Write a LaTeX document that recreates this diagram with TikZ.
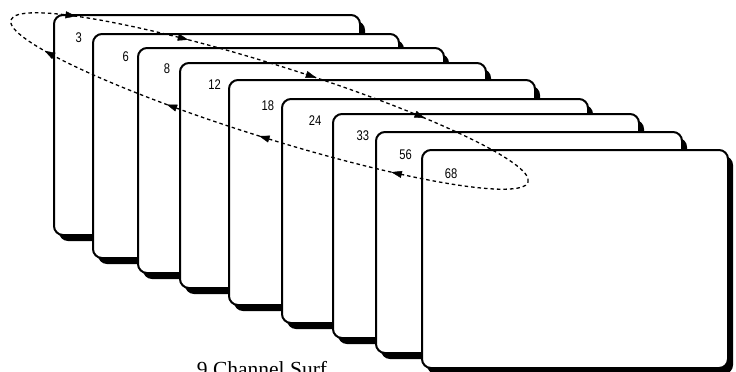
\documentclass[tikz,border=0pt]{standalone}
\usepackage{fontspec}
\setmainfont{Liberation Serif}
\newfontfamily\numfont[FakeStretch=0.8]{Liberation Sans}
\usetikzlibrary{shadows,arrows.meta}
\begin{document}
\begin{tikzpicture}[x=1pt,y=1pt,
  screen/.style={draw=black, line width=2pt, fill=white, rounded corners=9pt,
    inner sep=0pt, outer sep=0pt, anchor=north west, minimum width=306pt,
    general shadow={fill=black, shadow xshift=5pt, shadow yshift=-6pt}},
  chan/.style={font=\numfont\fontsize{14}{15}\selectfont, inner sep=0pt},
  surf/.style={line width=1.3pt, dash pattern=on 3.5pt off 3pt},
  tip/.style={-{Triangle[length=10.5pt,width=7pt]}, line width=0.4pt}
]
\useasboundingbox (0,0) rectangle (736,-372);
\foreach \n/\l/\t/\b in {1/54/15/235, 2/93/34/258, 3/138/48/273, 4/180/63/288,
  5/229/80/305, 6/282/99/323, 7/333/114/338, 8/376/132/353, 9/422/150/368}
  \node[screen, minimum height={(\b-\t)*1pt}] (b\n) at (\l,-\t) {};
\foreach \n/\txt/\x/\y in {1/3/78.8/38, 2/6/125.7/56.7, 3/8/167/68.3, 4/12/214.5/84.2,
  5/18/267.8/105.8, 6/24/315/120.5, 7/33/362.8/136, 8/56/405.7/155, 9/68/451/174}
  \node[chan] (l\n) at (\x,-\y) {\txt};
\begin{scope}[shift={(269.5,-101)}, rotate=-17.4]
  \draw[surf] (0,0) ellipse [x radius=271pt, y radius=36.5pt];
  \foreach \a in {142.2,112.1,83.4,56.9,301.9,271.5,250.4,213.5}
    \draw[tip] ({\a+1}:271pt and 36.5pt) -- ({\a-1.4}:271pt and 36.5pt);
\end{scope}
\node[font=\fontsize{21.5}{24}\selectfont, anchor=base, inner sep=0pt] (cap) at (262,-376) {9 Channel Surf};
\end{tikzpicture}
\end{document}
